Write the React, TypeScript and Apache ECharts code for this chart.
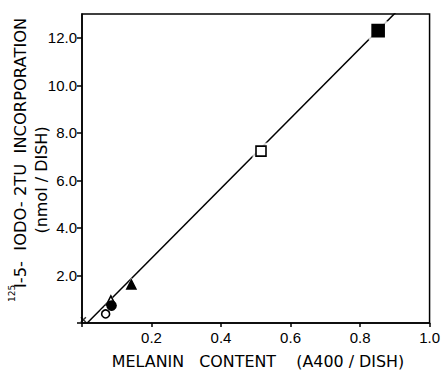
import React, { useEffect, useRef } from "react";
import * as echarts from "echarts";

const xTicks = [0.2, 0.4, 0.6, 0.8, 1.0];
const yTicks = [2, 4, 6, 8, 10, 12];
const openCircle = [[0.068, 0.38]];
const filledCircle = [[0.085, 0.73]];
const openTriangle = [[0.083, 0.95]];
const filledTriangle = [[0.142, 1.62]];
const openSquare = [[0.515, 7.23]];
const filledSquare = [[0.852, 12.3]];
const crossPoint = [[0.004, 0.14]];
const fitLine = [[0.015, 0], [0.905, 13.1]];

const TICK_FONT = "'Liberation Sans', sans-serif";
const TITLE_FONT = "'DejaVu Sans', sans-serif";
const CROSS = "path://M0,0 L10,10 M10,0 L0,10";

export default function App() {
  const ref = useRef<HTMLDivElement>(null);
  useEffect(() => {
    const chart = echarts.init(ref.current!, null, { renderer: "svg" });
    const halo = (data: number[][], symbol: string, size: number) => ({
      type: "scatter",
      data,
      symbol,
      symbolSize: size,
      itemStyle: { color: "#fff", borderWidth: 0 },
      z: 3,
    });
    const mark = (data: number[][], symbol: string, size: number, filled: boolean) => ({
      type: "scatter",
      data,
      symbol,
      symbolSize: size,
      itemStyle: {
        color: filled ? "#000" : "#fff",
        opacity: 1,
        borderColor: "#000",
        borderWidth: 1.6,
      },
      z: 4,
    });
    chart.setOption({
      animation: false,
      backgroundColor: "#fff",
      grid: {
        left: 82,
        right: 10,
        top: 14,
        bottom: 48,
        show: true,
        borderColor: "#000",
        borderWidth: 1.5,
      },
      xAxis: {
        type: "value",
        min: 0,
        max: 1,
        interval: 0.2,
        splitLine: { show: false },
        axisLine: { show: true, lineStyle: { color: "#000", width: 1.5 } },
        axisTick: { show: true, length: 4, lineStyle: { color: "#000", width: 1.5 } },
        axisLabel: {
          color: "#000",
          fontFamily: TICK_FONT,
          fontSize: 15,
          margin: 7,
          formatter: (v: number) => (xTicks.some((t) => Math.abs(t - v) < 1e-6) ? v.toFixed(1) : ""),
        },
      },
      yAxis: {
        type: "value",
        min: 0,
        max: 13,
        interval: 2,
        splitLine: { show: false },
        axisLine: { show: true, lineStyle: { color: "#000", width: 1.5 } },
        axisTick: { show: true, length: 5, lineStyle: { color: "#000", width: 1.5 } },
        axisLabel: {
          color: "#000",
          fontFamily: TICK_FONT,
          fontSize: 15,
          margin: 5,
          showMaxLabel: false,
          formatter: (v: number) => (yTicks.some((t) => Math.abs(t - v) < 1e-6) ? v.toFixed(1) : ""),
        },
      },
      series: [
        {
          type: "line",
          data: fitLine,
          symbol: "none",
          lineStyle: { color: "#000", width: 1.5 },
          z: 2,
        },
        halo(openSquare, "rect", 17),
        halo(filledSquare, "rect", 19),
        halo(filledTriangle, "triangle", 14),
        halo(openTriangle, "triangle", 13),
        halo(openCircle, "circle", 12),
        mark(openSquare, "rect", 10, false),
        mark(filledSquare, "rect", 12, true),
        mark(filledTriangle, "triangle", 9, true),
        mark(openTriangle, "triangle", 9, false),
        mark(filledCircle, "circle", 9, true),
        mark(openCircle, "circle", 8, false),
        {
          type: "scatter",
          data: crossPoint,
          symbol: CROSS,
          symbolSize: 5,
          itemStyle: { color: "none", borderColor: "#000", borderWidth: 1.5 },
          z: 4,
        },
      ],
      graphic: [
        {
          type: "text",
          x: 21,
          y: 288,
          rotation: Math.PI / 2,
          scaleX: 1.02,
          style: {
            text: "I-5-  IODO- 2TU  INCORPORATION",
            fontFamily: TITLE_FONT,
            fontSize: 16,
            fill: "#000",
            align: "left",
            verticalAlign: "middle",
          },
        },
        {
          type: "text",
          x: 12,
          y: 302,
          rotation: Math.PI / 2,
          style: {
            text: "125",
            fontFamily: TITLE_FONT,
            fontSize: 9,
            fill: "#000",
            align: "left",
            verticalAlign: "middle",
          },
        },
        {
          type: "text",
          x: 41,
          y: 180,
          rotation: Math.PI / 2,
          style: {
            text: "(nmol / DISH)",
            fontFamily: TITLE_FONT,
            fontSize: 16,
            fill: "#000",
            align: "center",
            verticalAlign: "middle",
          },
        },
        {
          type: "text",
          x: 258,
          y: 362,
          scaleX: 1.06,
          style: {
            text: "MELANIN   CONTENT    (A400 / DISH)",
            fontFamily: TITLE_FONT,
            fontSize: 15,
            fill: "#000",
            align: "center",
            verticalAlign: "middle",
          },
        },
      ],
    });
    return () => chart.dispose();
  }, []);
  return (
    <div
      ref={ref}
      style={{ position: "fixed", left: 0, top: 0, width: 443, height: 371 }}
    />
  );
}
